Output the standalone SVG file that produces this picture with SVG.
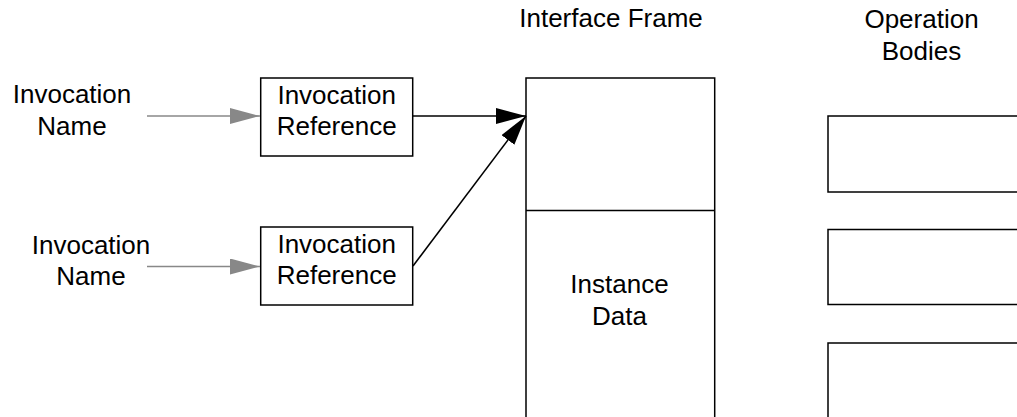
<svg xmlns="http://www.w3.org/2000/svg" width="1017" height="417" viewBox="0 0 1017 417">
<defs>
<style>
text{font-family:"Liberation Sans",Arial,sans-serif;font-size:26px;fill:#000;text-anchor:middle}
.box{fill:#fff;stroke:#000;stroke-width:1.5}
.gray{stroke:#888;stroke-width:1.6;fill:none}
.blk{stroke:#000;stroke-width:1.6;fill:none}
</style>
<marker id="ag" markerUnits="userSpaceOnUse" markerWidth="32" markerHeight="18" refX="30" refY="8" orient="auto" viewBox="0 0 32 18">
<path d="M0,0 L30,8 L0,16 Z" fill="#888"/>
</marker>
<marker id="ab" markerUnits="userSpaceOnUse" markerWidth="32" markerHeight="18" refX="30" refY="8" orient="auto" viewBox="0 0 32 18">
<path d="M0,0 L30,8 L0,16 Z" fill="#000"/>
</marker>
</defs>
<rect width="1017" height="417" fill="#fff"/>
<g id="name1"><text x="72" y="103">Invocation</text><text x="72" y="135">Name</text></g>
<g id="name2"><text x="91" y="254">Invocation</text><text x="91" y="285">Name</text></g>
<g id="ref1"><rect class="box" x="260.7" y="78" width="152" height="78"/><text x="336.7" y="104">Invocation</text><text x="336.7" y="135">Reference</text></g>
<g id="ref2"><rect class="box" x="260.7" y="227" width="152" height="78"/><text x="336.7" y="253">Invocation</text><text x="336.7" y="284">Reference</text></g>
<g id="frame"><text x="611" y="27">Interface Frame</text><rect class="box" x="526" y="78" width="188.7" height="360"/><line x1="526" y1="210.5" x2="714.7" y2="210.5" stroke="#000" stroke-width="1.5"/><text x="619.5" y="293">Instance</text><text x="619.5" y="325">Data</text></g>
<g id="bodies"><text x="921.5" y="28">Operation</text><text x="921.5" y="60">Bodies</text><rect class="box" x="828" y="116" width="195" height="76"/><rect class="box" x="828" y="229.5" width="195" height="75"/><rect class="box" x="828" y="343" width="195" height="90"/></g>
<g id="connectors">
<line class="gray" x1="147" y1="116" x2="260" y2="116" marker-end="url(#ag)"/>
<line class="gray" x1="147" y1="266.5" x2="260" y2="266.5" marker-end="url(#ag)"/>
<line class="blk" x1="413" y1="116" x2="526" y2="116" marker-end="url(#ab)"/>
<line class="blk" x1="413" y1="266" x2="526" y2="116" marker-end="url(#ab)"/>
</g>
</svg>
